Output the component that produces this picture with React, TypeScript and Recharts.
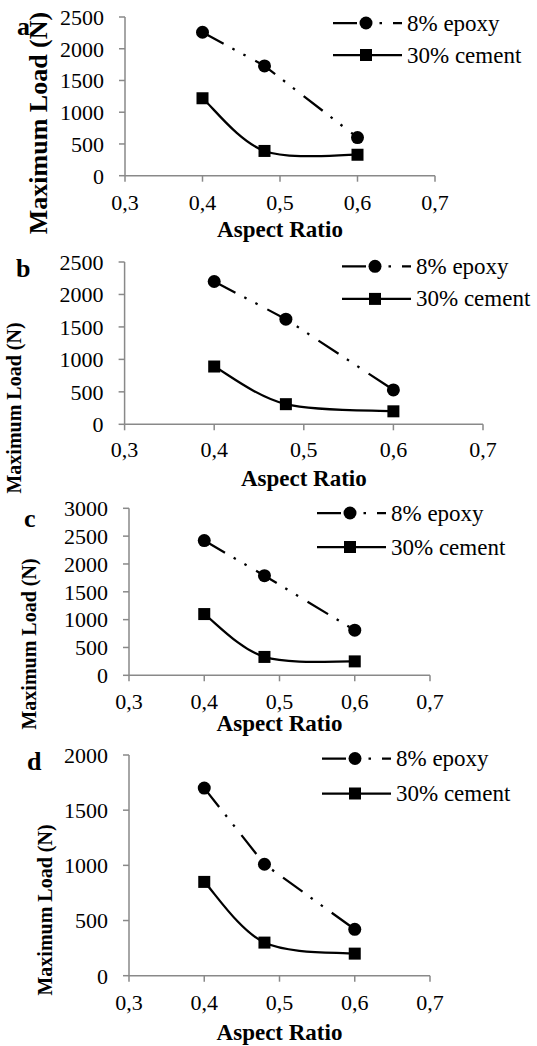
import React from 'react';
import { LineChart, Line, XAxis, YAxis, Legend, Label } from 'recharts';

// aspect ratios tested (x values)
const ratios = [0.4, 0.48, 0.6];
const xTicks = [0.3, 0.4, 0.5, 0.6, 0.7];

// maximum load (N) per panel
const epoxyA = [2260, 1730, 600];
const cementA = [1220, 390, 330];
const epoxyB = [2200, 1620, 530];
const cementB = [890, 310, 200];
const epoxyC = [2420, 1790, 810];
const cementC = [1100, 330, 250];
const epoxyD = [1700, 1010, 420];
const cementD = [850, 300, 200];

const yTicks2500 = [0, 500, 1000, 1500, 2000, 2500];
const yTicks3000 = [0, 500, 1000, 1500, 2000, 2500, 3000];
const yTicks2000 = [0, 500, 1000, 1500, 2000];

const panelLetters = ['a', 'b', 'c', 'd'];
const epoxyName = '8% epoxy';
const cementName = '30% cement';
const xTitle = 'Aspect Ratio';
const yTitle = 'Maximum Load (N)';

const FONT = 'Liberation Serif';
const AXIS = '#898989';
const DASH = '24 10 2.5 10 2.5 11';
const W = 537;
const H = 1046;

const makeRows = (epoxy: number[], cement: number[]) =>
  ratios.map((r, i) => ({ ratio: r, epoxy: epoxy[i], cement: cement[i] }));

// Excel-like smoothing (uniform Catmull-Rom as cubic Beziers)
const smoothCurve = (context: any) => {
  let pts: [number, number][] = [];
  return {
    areaStart() {},
    areaEnd() {},
    lineStart() {
      pts = [];
    },
    point(x: number, y: number) {
      pts.push([x, y]);
    },
    lineEnd() {
      if (!pts.length) return;
      context.moveTo(pts[0][0], pts[0][1]);
      for (let i = 0; i < pts.length - 1; i++) {
        const p0 = pts[i - 1] || pts[i];
        const p1 = pts[i];
        const p2 = pts[i + 1];
        const p3 = pts[i + 2] || pts[i + 1];
        context.bezierCurveTo(
          p1[0] + (p2[0] - p0[0]) / 6,
          p1[1] + (p2[1] - p0[1]) / 6,
          p2[0] - (p3[0] - p1[0]) / 6,
          p2[1] - (p3[1] - p1[1]) / 6,
          p2[0],
          p2[1]
        );
      }
    },
  };
};

const CircleDot = (props: any) => (
  <circle key={`c-${props.index}`} cx={props.cx} cy={props.cy} r={6.5} fill="#000" />
);
const SquareDot = (props: any) => (
  <rect key={`s-${props.index}`} x={props.cx - 6} y={props.cy - 6} width={12} height={12} fill="#000" />
);

interface PanelLayout {
  left: number;
  right: number;
  top: number;
  bottom: number;
  letterX: number;
  letterY: number;
  yTitleX: number;
  yTitleY: number;
  yTitleSize: number;
  xTitleY: number;
  tickMargin: number;
  legendX: number;
  legendY: number;
  legendGap: number;
}

// legend drawn as svg: "-●- 8% epoxy" / "-■- 30% cement"
const LegendBox = ({ gap }: { gap: number }) => {
  const items = [
    { name: epoxyName, dashed: true },
    { name: cementName, dashed: false },
  ];
  return (
    <svg width={200} height={gap * 2} style={{ display: 'block', overflow: 'visible' }}>
      {items.map((item, i) => {
        const cy = gap / 2 + i * gap;
        return (
          <g key={item.name}>
            <line
              x1={0}
              y1={cy}
              x2={69}
              y2={cy}
              stroke="#000"
              strokeWidth={2.25}
              strokeDasharray={item.dashed ? DASH : undefined}
            />
            {item.dashed ? (
              <circle cx={33} cy={cy} r={6.5} fill="#000" />
            ) : (
              <rect x={27} y={cy - 6} width={12} height={12} fill="#000" />
            )}
            <text x={74} y={cy} dominantBaseline="central" fontFamily={FONT} fontSize={23} fill="#000">
              {item.name}
            </text>
          </g>
        );
      })}
    </svg>
  );
};

const Panel = ({
  rows,
  yTicks,
  letter,
  layout,
}: {
  rows: { ratio: number; epoxy: number; cement: number }[];
  yTicks: number[];
  letter: string;
  layout: PanelLayout;
}) => {
  const yMax = yTicks[yTicks.length - 1];
  const tickStyle = { fill: '#000', fontSize: 22, fontFamily: FONT };
  return (
    <div style={{ position: 'absolute', left: 0, top: 0 }}>
      <LineChart
        width={W}
        height={H}
        data={rows}
        margin={{
          top: layout.top,
          left: layout.left - 60,
          right: W - layout.right,
          bottom: H - layout.bottom - 30,
        }}
      >
        <XAxis
          dataKey="ratio"
          type="number"
          domain={[0.3, 0.7]}
          ticks={xTicks}
          interval={0}
          height={30}
          tickFormatter={(v: number) => v.toFixed(1).replace('.', ',')}
          stroke={AXIS}
          strokeWidth={1.5}
          tickSize={6}
          tickMargin={layout.tickMargin}
          tick={tickStyle}
        >
          <Label
            content={(p: any) => (
              <text
                x={p.viewBox.x + p.viewBox.width / 2}
                y={layout.xTitleY}
                textAnchor="middle"
                fontFamily={FONT}
                fontWeight="bold"
                fontSize={23}
                fill="#000"
              >
                {xTitle}
              </text>
            )}
          />
        </XAxis>
        <YAxis
          type="number"
          domain={[0, yMax]}
          ticks={yTicks}
          interval={0}
          width={60}
          stroke={AXIS}
          strokeWidth={1.5}
          tickSize={6}
          tickMargin={15}
          tick={tickStyle}
        >
          <Label
            content={() => (
              <g>
                <text
                  x={layout.yTitleX}
                  y={layout.yTitleY}
                  transform={`rotate(-90 ${layout.yTitleX} ${layout.yTitleY})`}
                  textAnchor="middle"
                  dominantBaseline="central"
                  fontFamily={FONT}
                  fontWeight="bold"
                  fontSize={layout.yTitleSize}
                  fill="#000"
                >
                  {yTitle}
                </text>
                <text
                  x={layout.letterX}
                  y={layout.letterY}
                  fontFamily={FONT}
                  fontWeight="bold"
                  fontSize={26}
                  fill="#000"
                >
                  {letter}
                </text>
              </g>
            )}
          />
        </YAxis>
        <Legend
          layout="vertical"
          align="center"
          verticalAlign="middle"
          wrapperStyle={{ left: layout.legendX, top: layout.legendY, width: 'auto' }}
          content={() => <LegendBox gap={layout.legendGap} />}
        />
        <Line
          dataKey="epoxy"
          name={epoxyName}
          type="linear"
          stroke="#000"
          strokeWidth={2.25}
          strokeDasharray={DASH}
          dot={CircleDot}
          activeDot={false}
          isAnimationActive={false}
        />
        <Line
          dataKey="cement"
          name={cementName}
          type={smoothCurve as any}
          stroke="#000"
          strokeWidth={2.25}
          dot={SquareDot}
          activeDot={false}
          isAnimationActive={false}
        />
      </LineChart>
    </div>
  );
};

const layouts: PanelLayout[] = [
  {
    left: 125, right: 435, top: 17, bottom: 175.7,
    letterX: 17, letterY: 35, yTitleX: 38, yTitleY: 123, yTitleSize: 26,
    xTitleY: 237, tickMargin: 13,
    legendX: 333, legendY: 7, legendGap: 32,
  },
  {
    left: 124.6, right: 483, top: 262, bottom: 424.3,
    letterX: 16, letterY: 277, yTitleX: 14, yTitleY: 408, yTitleSize: 20,
    xTitleY: 486, tickMargin: 11,
    legendX: 342, legendY: 249.5, legendGap: 32.6,
  },
  {
    left: 129, right: 430, top: 508.3, bottom: 675.3,
    letterX: 24, letterY: 527, yTitleX: 29, yTitleY: 644, yTitleSize: 20,
    xTitleY: 731, tickMargin: 12,
    legendX: 317, legendY: 496.3, legendGap: 34,
  },
  {
    left: 129, right: 430, top: 755, bottom: 975.7,
    letterX: 27, letterY: 770, yTitleX: 45, yTitleY: 910, yTitleSize: 20,
    xTitleY: 1040, tickMargin: 13,
    legendX: 322, legendY: 740.5, legendGap: 35,
  },
];

const panels = [
  { rows: makeRows(epoxyA, cementA), yTicks: yTicks2500 },
  { rows: makeRows(epoxyB, cementB), yTicks: yTicks2500 },
  { rows: makeRows(epoxyC, cementC), yTicks: yTicks3000 },
  { rows: makeRows(epoxyD, cementD), yTicks: yTicks2000 },
];

export default function App() {
  return (
    <div style={{ position: 'absolute', left: 0, top: 0, width: W, height: H, background: '#fff' }}>
      {panels.map((p, i) => (
        <Panel key={panelLetters[i]} rows={p.rows} yTicks={p.yTicks} letter={panelLetters[i]} layout={layouts[i]} />
      ))}
    </div>
  );
}
